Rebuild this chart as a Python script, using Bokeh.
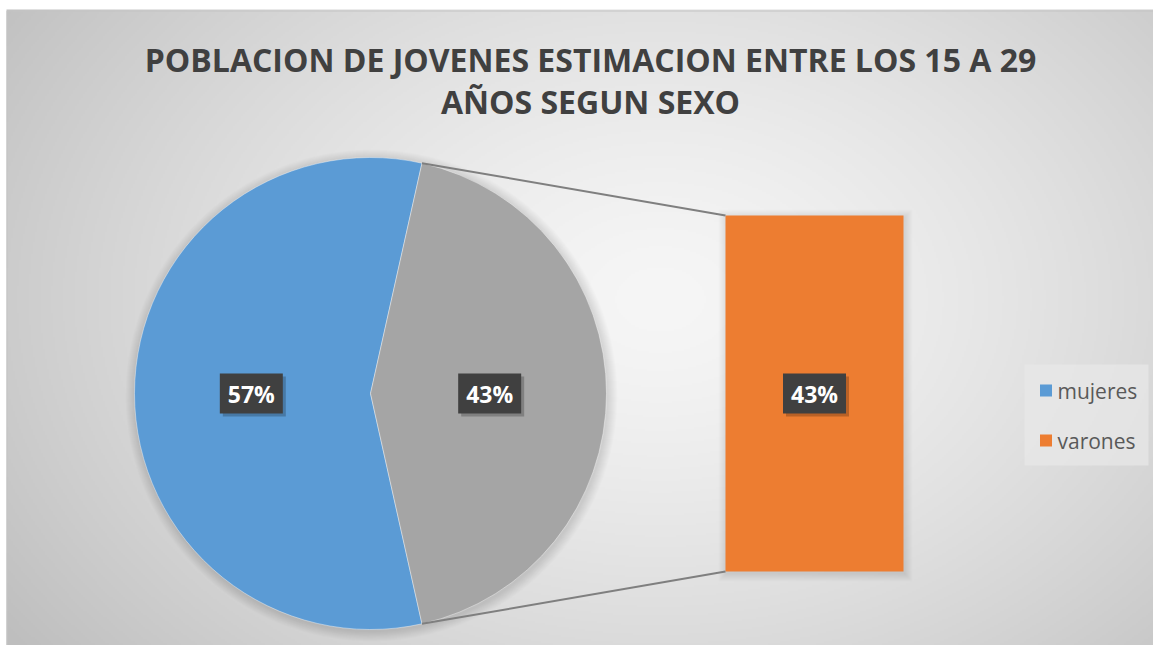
import numpy as np
from bokeh.plotting import figure
from bokeh.models import Range1d
from bokeh.core.properties import value
from bokeh.embed import file_html
from bokeh.resources import INLINE

# ---- data ----
title_lines = ["POBLACION DE JOVENES ESTIMACION ENTRE LOS 15 A 29", "AÑOS SEGUN SEXO"]
categories = ["mujeres", "varones"]
shares = [57, 43]                 # percent
bar_values = [43]                 # secondary bar (varones)
pie_colors = ["#5B9BD5", "#A5A5A5"]
bar_color = "#ED7D31"

# ---- layout (pixels, y measured from top then flipped) ----
W, H = 1153, 645
FL, FT = 6, 10          # chart frame left / top
def Y(sy):
    return H - sy

p = figure(width=W, height=H, x_range=Range1d(0, W), y_range=Range1d(0, H),
           x_axis_type=None, y_axis_type=None, output_backend="svg",
           toolbar_location=None, min_border=0)
p.grid.visible = False
p.outline_line_color = None
p.background_fill_color = "white"
p.border_fill_color = "white"

# radial gradient background for the chart frame
fw, fh = W - FL, H - FT
nx, ny = fw // 2 + 1, fh // 2 + 1
xs = FL + (np.arange(nx) + 0.5) * 2
ys = FT + (np.arange(ny) + 0.5) * 2       # screen y (top = 0)
XX, YY = np.meshgrid(xs, ys)
cx0, cy0 = 660, 300
t = np.sqrt(((XX - cx0) / 720) ** 2 + ((YY - cy0) / 520) ** 2)
t = np.clip(t, 0, 1.15)
g = 246 - 48 * (t ** 1.4)
g = np.clip(g, 190, 250).astype(np.uint8)
img = np.zeros((ny, nx), dtype=np.uint32)
view = img.view(dtype=np.uint8).reshape((ny, nx, 4))
view[:, :, 0] = g
view[:, :, 1] = g
view[:, :, 2] = g
view[:, :, 3] = 255
img = img[::-1]  # bokeh rows start at bottom
p.image_rgba(image=[img], x=FL, y=0, dw=nx * 2, dh=ny * 2)
p.line(x=[FL + 0.5, FL + 0.5, W], y=[0, Y(FT + 0.5), Y(FT + 0.5)],
       line_color="#c4c4c4", line_width=1)

# ---- title ----
font = value("Open Sans")
for i, line in enumerate(title_lines):
    p.text(x=[590], y=[Y(59 + i * 42)], text=[line], text_font=font,
           text_font_style="bold", text_font_size="32px", text_color="#404040",
           text_align="center", text_baseline="middle")

# ---- pie ----
pcx, pcy, r = 370, Y(393), 236
total = sum(shares)
other_frac = shares[1] / total
half = np.pi * other_frac           # gray slice centred on 0 rad
starts = [half, -half]
ends = [2 * np.pi - half, half]

# soft shadow
for k in range(10, 0, -1):
    p.circle(x=[pcx + 1], y=[pcy - 2], radius=r + k, fill_color="black",
             fill_alpha=0.013, line_color=None)
p.wedge(x=[pcx, pcx], y=[pcy, pcy], radius=r, start_angle=starts, end_angle=ends,
        fill_color=pie_colors, line_color="white", line_alpha=0.4, line_width=1)

# ---- bar ----
bl, br, bt, bb = 725, 903, 215, 571
bar_h = (bb - bt) * bar_values[0] / shares[1]
for k in range(8, 0, -1):
    p.quad(left=[bl - k + 1], right=[br + k + 1], top=[Y(bt) + k - 2], bottom=[Y(bt) - bar_h - k - 2],
           fill_color="black", fill_alpha=0.012, line_color=None)
p.quad(left=[bl], right=[br], top=[Y(bt)], bottom=[Y(bt) - bar_h],
       fill_color=bar_color, line_color=None)

# connector lines
tx, ty = pcx + r * np.cos(half), pcy + r * np.sin(half)
bx, by = pcx + r * np.cos(-half), pcy + r * np.sin(-half)
p.segment(x0=[tx, bx], y0=[ty, by], x1=[bl, bl], y1=[Y(bt), Y(bt) - bar_h],
          line_color="#7f7f7f", line_width=2)

# ---- data labels ----
lab_r = 0.505 * r
mid_blue = np.pi
lx = [pcx + lab_r * np.cos(mid_blue), pcx + lab_r * np.cos(0), (bl + br) / 2]
ly = [pcy, pcy, Y(bt) - bar_h / 2]
ltxt = [f"{shares[0]}%", f"{shares[1]}%", f"{bar_values[0]}%"]
p.rect(x=[v + 3 for v in lx], y=[v - 3 for v in ly], width=63, height=40,
       fill_color="black", fill_alpha=0.22, line_color=None)
p.rect(x=lx, y=ly, width=63, height=40, fill_color="#404040", line_color=None)
p.text(x=lx, y=ly, text=ltxt, text_font=font, text_font_style="bold",
       text_font_size="23px", text_color="white", text_align="center",
       text_baseline="middle")

# ---- legend ----
p.quad(left=[1024], right=[1148], top=[Y(364)], bottom=[Y(465)],
       fill_color="#e8e8e8", fill_alpha=0.7, line_color=None)
leg_y = [Y(390), Y(440)]
p.rect(x=[1045.5, 1045.5], y=leg_y, width=12, height=12,
       fill_color=[pie_colors[0], bar_color], line_color=None)
p.text(x=[1057, 1057], y=leg_y, text=categories, text_font=font,
       text_font_size="21px", text_color="#595959", text_align="left",
       text_baseline="middle")

open("out.html", "w").write(file_html(p, INLINE))
